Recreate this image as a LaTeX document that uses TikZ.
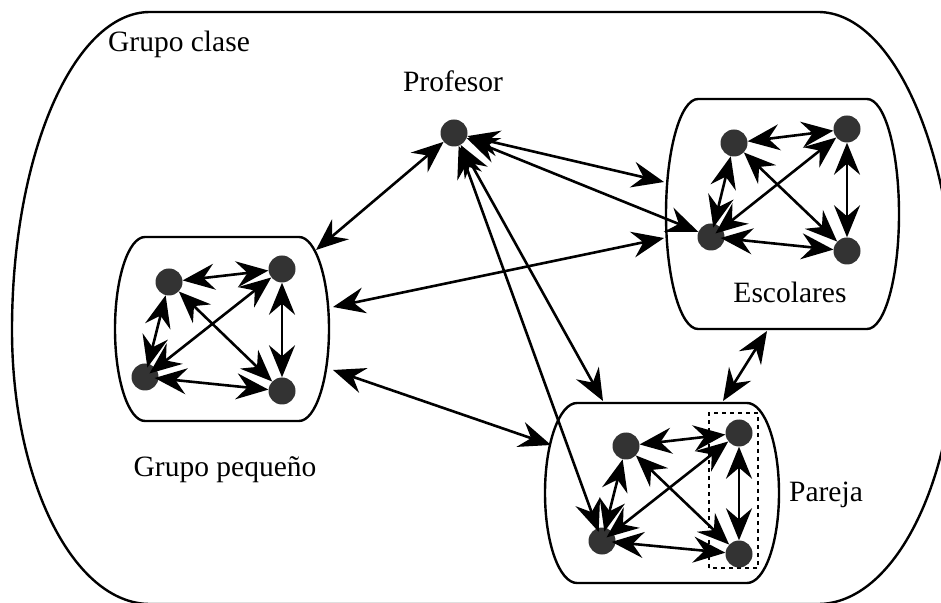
\documentclass[tikz,border=0pt]{standalone}
\usepackage{fontspec}
\setmainfont{Liberation Serif}
\usetikzlibrary{arrows.meta}
\definecolor{dotgray}{HTML}{333333}
\tikzset{bighead/.tip={Stealth[length=32pt,width=26pt,inset=11pt]}}
\begin{document}
\begin{tikzpicture}[x=1pt,y=1pt,
  dot/.style={circle,fill=dotgray,draw=none,minimum size=27pt,inner sep=0pt},
  link/.style={line width=2.6pt,bighead-bighead},
  frame/.style={line width=2.4pt},
  pairbox/.style={line width=2.6pt,dash pattern=on 4pt off 4pt},
  lbl/.style={font=\fontsize{29.5}{34}\selectfont,inner sep=0pt,anchor=base}]
\useasboundingbox (0,0) rectangle (941,602);
\fill[white] (0,0) rectangle (941,602);
% outer class boundary
\begin{scope}
\clip (0,0) rectangle (941,602);
\draw[frame] (150,590) -- (818,590)
  arc[start angle=90,end angle=0,x radius=138,y radius=318]
  arc[start angle=0,end angle=-90,x radius=138,y radius=274]
  -- (150,-2)
  arc[start angle=270,end angle=180,x radius=138,y radius=274]
  arc[start angle=180,end angle=90,x radius=138,y radius=318];
\end{scope}
% group boxes
\draw[frame] (145,365) -- (299,365) arc[start angle=90,end angle=-90,x radius=30,y radius=92]
  -- (145,181) arc[start angle=270,end angle=90,x radius=30,y radius=92] -- cycle;
\draw[frame] (698,503) -- (867,503) arc[start angle=90,end angle=-90,x radius=32,y radius=115]
  -- (698,273) arc[start angle=270,end angle=90,x radius=32,y radius=115] -- cycle;
\draw[frame] (577,199) -- (747,199) arc[start angle=90,end angle=-90,x radius=32,y radius=90]
  -- (577,19) arc[start angle=270,end angle=90,x radius=32,y radius=90] -- cycle;
\draw[pairbox] (709,34) rectangle (758,189);
% labels
\node[lbl] (lclase) at (179,550) {Grupo clase};
\node[lbl] (lprof) at (453,510) {Profesor};
\node[lbl] (lesc) at (790,299) {Escolares};
\node[lbl] (lgp) at (225,125) {Grupo pequeño};
\node[lbl] (lpar) at (826,100) {Pareja};
% dots
\node[dot] (prof) at (454,469) {};
\node[dot] (gtl) at (169,320) {};
\node[dot] (gtr) at (282,333) {};
\node[dot] (gbl) at (145,225) {};
\node[dot] (gbr) at (282,211) {};
\node[dot] (etl) at (734,459) {};
\node[dot] (etr) at (847,473) {};
\node[dot] (ebl) at (711,365) {};
\node[dot] (ebr) at (847,351) {};
\node[dot] (ptl) at (626,156) {};
\node[dot] (ptr) at (739,169) {};
\node[dot] (pbl) at (602,61) {};
\node[dot] (pbr) at (739,48) {};
% internal links
\foreach \g in {g,e,p}{
  \draw[link] (\g tl) -- (\g tr);
  \draw[link,shorten >=-4pt] (\g tl) -- (\g bl);
  \draw[link] (\g tl) -- (\g br);
  \draw[link,shorten <=-8pt] (\g bl) -- (\g tr);
  \draw[link,shorten <=-4pt] (\g bl) -- (\g br);
  \draw[link] (\g tr) -- (\g br);
}
% connection end points on boxes
\coordinate (gpTop) at (316,352);
\coordinate (gpR1) at (333,295);
\coordinate (gpR2) at (333,232);
\coordinate (esL1) at (664,420);
\coordinate (esL2) at (664,364);
\coordinate (esB) at (767,271);
\coordinate (paL) at (551,157);
\coordinate (paT1) at (603,201);
\coordinate (paT2) at (723,201);
% external links
\draw[link] (prof) -- (gpTop);
\draw[link] (prof) -- (esL1);
\draw[link] (prof) -- (ebl);
\draw[link] (prof) -- (paT1);
\draw[link,shorten >=-4pt] (prof) -- (pbl);
\draw[link] (gpR1) -- (esL2);
\draw[link] (gpR2) -- (paL);
\draw[link] (esB) -- (paT2);
\end{tikzpicture}
\end{document}
